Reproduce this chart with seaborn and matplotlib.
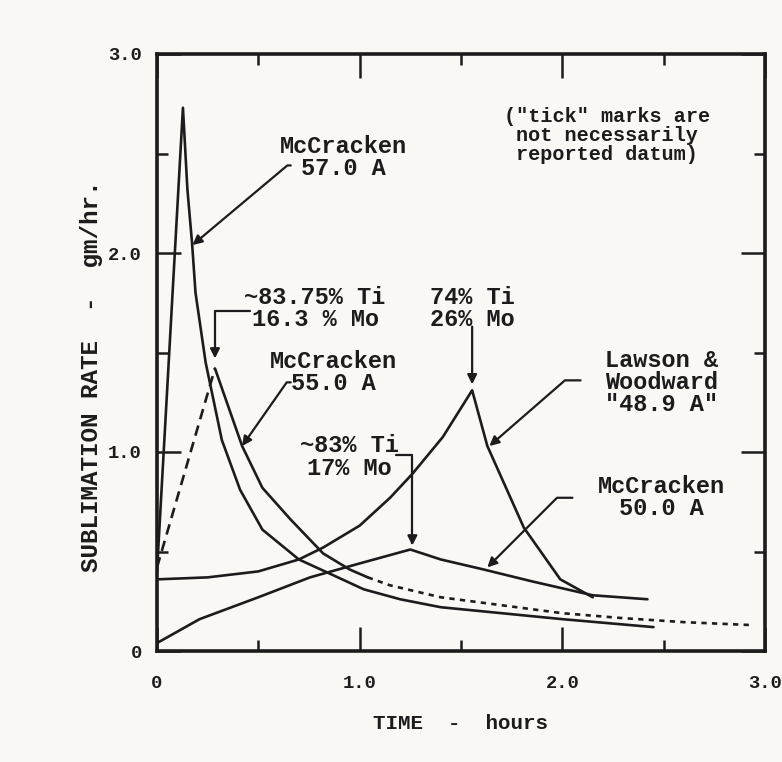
import numpy as np
import pandas as pd
import matplotlib
matplotlib.use("Agg")
import matplotlib.pyplot as plt
import seaborn as sns
from matplotlib.ticker import MultipleLocator

# ---- data (time in hours, rate in gm/hr) ----
mc57_x = [0.00, 0.128, 0.15, 0.173, 0.19, 0.24, 0.32, 0.41, 0.52, 0.70, 0.85, 1.02, 1.20, 1.40, 1.70, 2.00, 2.45]
mc57_y = [0.40, 2.73, 2.32, 2.05, 1.80, 1.45, 1.06, 0.81, 0.61, 0.46, 0.39, 0.31, 0.26, 0.22, 0.19, 0.16, 0.12]

mc55_x = [0.00, 0.286, 0.42, 0.52, 0.66, 0.82, 0.95, 1.04, 1.15, 1.40, 1.70, 2.00, 2.30, 2.60, 2.94]
mc55_y = [0.42, 1.42, 1.03, 0.82, 0.66, 0.49, 0.41, 0.37, 0.33, 0.27, 0.23, 0.19, 0.165, 0.145, 0.13]

lw_x = [0.00, 0.25, 0.50, 0.70, 0.82, 1.00, 1.15, 1.26, 1.41, 1.555, 1.63, 1.81, 1.99, 2.15]
lw_y = [0.36, 0.37, 0.40, 0.46, 0.52, 0.63, 0.77, 0.89, 1.075, 1.31, 1.03, 0.62, 0.36, 0.27]

mc50_x = [0.00, 0.21, 0.50, 0.755, 1.00, 1.25, 1.40, 1.61, 1.85, 2.15, 2.42]
mc50_y = [0.04, 0.16, 0.27, 0.37, 0.44, 0.51, 0.46, 0.41, 0.35, 0.28, 0.26]

x_ticks = [0, 1.0, 2.0, 3.0]
x_tick_labels = ["0", "1.0", "2.0", "3.0"]
y_ticks = [0, 1.0, 2.0, 3.0]
y_tick_labels = ["0", "1.0", "2.0", "3.0"]

# ---- style ----
sns.set_style("ticks")
plt.rcParams['font.family'] = ['Liberation Mono', 'DejaVu Sans Mono']
plt.rcParams['font.weight'] = 'bold'
plt.rcParams['axes.labelweight'] = 'bold'

INK = '#1c1c1c'
BG = '#f9f8f5'

fig = plt.figure(figsize=(7.82, 7.62), dpi=100, facecolor=BG)
ax = fig.add_axes([157 / 782, 1 - 651 / 762, (765 - 157) / 782, (651 - 54) / 762])
ax.set_facecolor(BG)

lw = 1.9


def seg(xs, ys, **kw):
    df = pd.DataFrame({"t": xs, "r": ys})
    sns.lineplot(data=df, x="t", y="r", ax=ax, sort=False, estimator=None,
                 color=INK, linewidth=lw, **kw)


# McCracken 57.0 A
seg(mc57_x, mc57_y)

# McCracken 55.0 A : dashed rise, solid decay, dotted tail
pk = int(np.argmax(mc55_y))
cut = mc55_x.index(1.04)
seg(mc55_x[:pk + 1], mc55_y[:pk + 1], linestyle=(0, (4, 2.5)))
seg(mc55_x[pk:cut + 1], mc55_y[pk:cut + 1])
seg(mc55_x[cut:], mc55_y[cut:], linestyle=(0, (2, 2)))

# Lawson & Woodward "48.9 A"
seg(lw_x, lw_y)

# McCracken 50.0 A
seg(mc50_x, mc50_y)

# ---- axes ----
ax.set_xlim(0, 3.0)
ax.set_ylim(0, 3.0)
ax.xaxis.set_minor_locator(MultipleLocator(0.5))
ax.yaxis.set_minor_locator(MultipleLocator(0.5))
ax.set_xticks(x_ticks)
ax.set_xticklabels(x_tick_labels)
ax.set_yticks(y_ticks)
ax.set_yticklabels(y_tick_labels)
ax.tick_params(which='major', direction='in', length=17, width=1.8, color=INK,
               top=True, right=True, labelsize=13.5, labelcolor=INK)
ax.tick_params(axis='x', which='major', pad=17)
ax.tick_params(axis='y', which='major', pad=11)
ax.tick_params(which='minor', direction='in', length=8, width=1.8, color=INK,
               top=True, right=True)
for s in ax.spines.values():
    s.set_color(INK)
    s.set_linewidth(2.6)

ax.set_xlabel("TIME  -  hours", fontsize=15, color=INK)
ax.set_ylabel("SUBLIMATION RATE  -  gm/hr.", fontsize=17.5, color=INK)
ax.xaxis.set_label_coords(0.5, -0.105)
ax.yaxis.set_label_coords(-0.088, 0.46)

# ---- annotations ----
tkw = dict(ha='center', va='center', fontsize=17, color=INK, linespacing=0.95)
ap = dict(arrowstyle='-|>', color=INK, lw=1.6, mutation_scale=14, shrinkA=0, shrinkB=0)

ax.text(0.92, 2.48, "McCracken\n57.0 A", **tkw)
ax.annotate("", xy=(0.175, 2.04), xytext=(0.66, 2.44),
            arrowprops=dict(ap, connectionstyle="angle,angleA=0,angleB=40,rad=0"))

ax.text(0.78, 1.72, "~83.75% Ti\n16.3 % Mo", **tkw)
ax.annotate("", xy=(0.286, 1.47), xytext=(0.46, 1.71),
            arrowprops=dict(ap, connectionstyle="angle,angleA=0,angleB=90,rad=0"))

ax.text(0.87, 1.40, "McCracken\n55.0 A", **tkw)
ax.annotate("", xy=(0.42, 1.03), xytext=(0.66, 1.35),
            arrowprops=dict(ap, connectionstyle="angle,angleA=0,angleB=55,rad=0"))

ax.text(1.555, 1.72, "74% Ti\n26% Mo", **tkw)
ax.annotate("", xy=(1.555, 1.34), xytext=(1.555, 1.63), arrowprops=ap)

ax.text(2.49, 1.35, "Lawson &\nWoodward\n\"48.9 A\"", **tkw)
ax.annotate("", xy=(1.64, 1.03), xytext=(2.09, 1.36),
            arrowprops=dict(ap, connectionstyle="angle,angleA=0,angleB=41,rad=0"))

ax.text(0.95, 0.975, "~83% Ti\n17% Mo", **tkw)
ax.annotate("", xy=(1.26, 0.53), xytext=(1.18, 0.985),
            arrowprops=dict(ap, connectionstyle="angle,angleA=0,angleB=90,rad=0"))

ax.text(2.49, 0.77, "McCracken\n50.0 A", **tkw)
ax.annotate("", xy=(1.63, 0.42), xytext=(2.05, 0.77),
            arrowprops=dict(ap, connectionstyle="angle,angleA=0,angleB=45,rad=0"))

ax.text(2.22, 2.59, "(\"tick\" marks are\nnot necessarily\nreported datum)",
        ha='center', va='center', fontsize=14.5, color=INK, linespacing=1.0)

fig.savefig("out.png", dpi=100, facecolor=BG)
